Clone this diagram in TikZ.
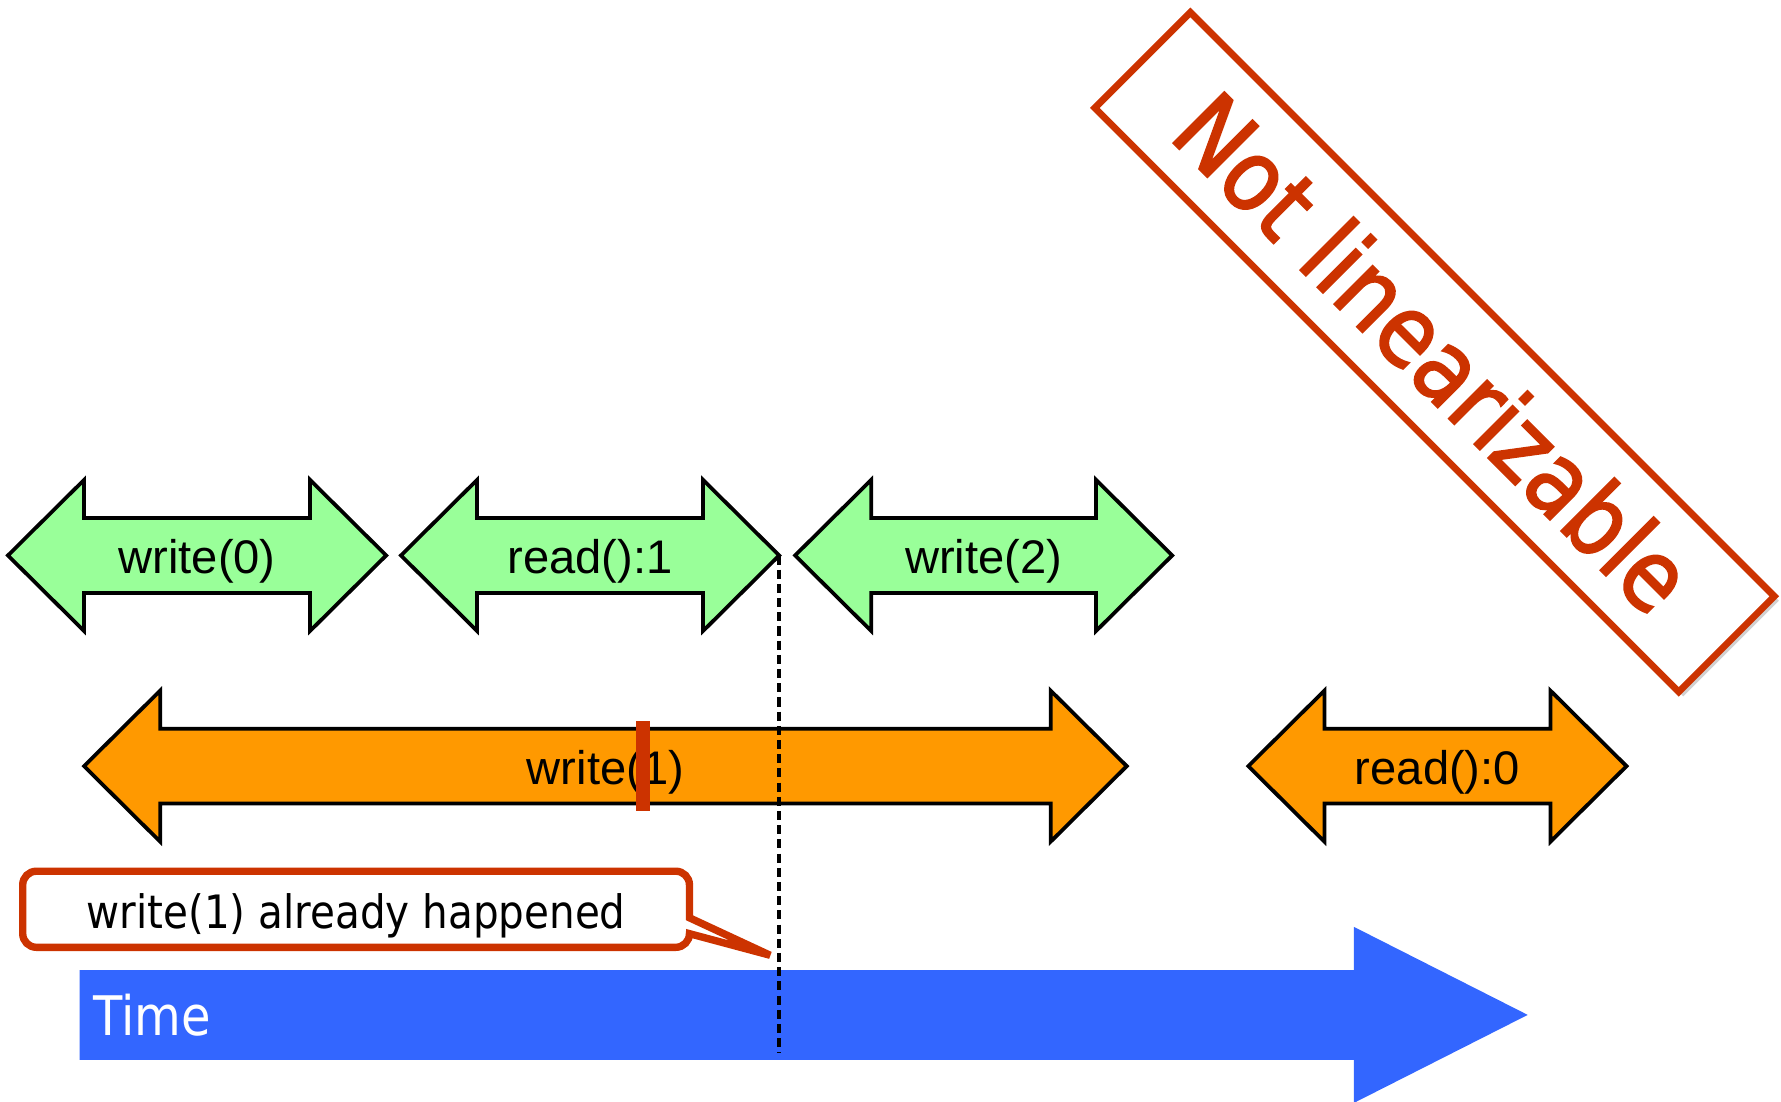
\documentclass[tikz,border=0pt]{standalone}
\usepackage{fontspec}
\setmainfont{Liberation Sans}
\newfontfamily\humanist[FakeStretch=0.88]{DejaVu Sans}
\newfontfamily\stampfont[FakeStretch=0.88, FakeBold=2]{DejaVu Sans}
\usetikzlibrary{shadows}

\definecolor{opgreen}{HTML}{99FF99}
\definecolor{oporange}{HTML}{FF9900}
\definecolor{timeblue}{HTML}{3366FF}
\definecolor{alertred}{HTML}{CC3300}

\tikzset{
  opshape/.style={draw=black, line width=3.3pt, line join=miter},
  pending/.style={opshape, fill=opgreen},
  conflict/.style={opshape, fill=oporange},
  oplabel/.style={inner sep=0pt, anchor=base, font=\fontsize{41.5}{50}\selectfont},
  timearrow/.style={fill=timeblue},
  timelabel/.style={inner sep=0pt, anchor=base west, text=white,
    font=\humanist\fontsize{48}{56}\selectfont},
  calloutshape/.style={draw=alertred, line width=6.5pt, fill=white, line join=miter},
  calloutlabel/.style={inner sep=0pt, anchor=base,
    font=\humanist\fontsize{40.5}{48}\selectfont},
  linpoint/.style={fill=alertred, inner sep=0pt, minimum width=12pt, minimum height=79pt},
  dashline/.style={draw=black, line width=3pt, dash pattern=on 8pt off 4.5pt},
  stamp/.style={draw=alertred, line width=6pt, fill=white, text=alertred,
    rotate=-45, inner sep=0pt, minimum width=727pt, minimum height=119pt,
    font=\stampfont\fontsize{87}{100}\selectfont,
    drop shadow={shadow xshift=4pt, shadow yshift=-4pt, opacity=0.3, fill=black!60}},
}

% Double-headed interval arrow: name, left tip x, right tip x, centre y, style, label
\newcommand\opinterval[6]{%
  \path[#5] (#2,#4) -- (#2+67,#4-66.5) -- (#2+67,#4-33) -- (#3-67,#4-33)
    -- (#3-67,#4-66.5) -- (#3,#4) -- (#3-67,#4+66.5) -- (#3-67,#4+33)
    -- (#2+67,#4+33) -- (#2+67,#4+66.5) -- cycle;
  \node[oplabel] (#1) at ({(#2+#3)/2},#4+16) {#6};
  \coordinate (#1-start) at (#2,#4);
  \coordinate (#1-end) at (#3,#4);
}

\begin{document}
\begin{tikzpicture}[x=1pt,y=-1pt]
\useasboundingbox (0,0) rectangle (1568,970);

% first thread
\opinterval{w0}{7}{340}{489}{pending}{write(0)}
\opinterval{r1}{353}{686}{489}{pending}{read():1}
\opinterval{w2}{700}{1032}{489}{pending}{write(2)}

% second thread
\opinterval{w1}{74}{992}{674.5}{conflict}{write(1)}
\opinterval{r0}{1099}{1432}{674.5}{conflict}{read():0}

% linearization point of write(1)
\node[linpoint] (lp) at (566,674.5) {};

% time axis
\path[timearrow] (70,854) -- (1192,854) -- (1192,816) -- (1345,893.5)
  -- (1192,971) -- (1192,933) -- (70,933) -- cycle;
\node[timelabel] (time) at (82,912) {Time};

% callout
\coordinate (notetip) at (678,841);
\path[calloutshape] (notetip) -- (607,822) arc[start angle=0, end angle=90, radius=12]
  -- (32,834) arc[start angle=90, end angle=180, radius=12]
  -- (20,779) arc[start angle=180, end angle=270, radius=12]
  -- (595,767) arc[start angle=270, end angle=360, radius=12]
  -- (607,808) -- cycle;
\node[calloutlabel] (note) at (313.5,817) {write(1) already happened};

% moment when read():1 returns
\coordinate (dashend) at (686,927);
\draw[dashline] (r1-end) -- (dashend);

% verdict
\node[stamp] (verdict) at (1263,310) {Not linearizable};
\end{tikzpicture}
\end{document}
